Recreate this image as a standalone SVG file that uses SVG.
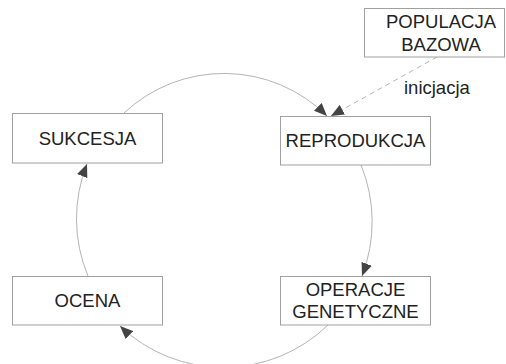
<svg xmlns="http://www.w3.org/2000/svg" width="506" height="364" viewBox="0 0 506 364">
<style>
.box{fill:#fff;stroke:#a0a0a0;stroke-width:1}
.t{font-family:"Liberation Sans",Arial,sans-serif;font-size:18.5px;fill:#222;text-anchor:middle}
.edge{fill:none;stroke:#b4b4b4;stroke-width:1}
.dash{fill:none;stroke:#b4b4b4;stroke-width:1;stroke-dasharray:5,4}
</style>
<defs>
<marker id="ah" viewBox="0 0 13 11" refX="13" refY="5.5" markerWidth="13" markerHeight="11" markerUnits="userSpaceOnUse" orient="auto">
<path d="M0,0 L13,5.5 L0,11 z" fill="#444"/>
</marker>
</defs>
<rect width="506" height="364" fill="#fff"/>
<g id="connectors">
<path class="edge" d="M124,113 A146,146 0 0 1 327,116" marker-end="url(#ah)"/>
<path class="dash" d="M437,57 L331,116" marker-end="url(#ah)"/>
<path class="edge" d="M361,165 A150,150 0 0 1 362,276" marker-end="url(#ah)"/>
<path class="edge" d="M328,325 A150,150 0 0 1 120,326" marker-end="url(#ah)"/>
<path class="edge" d="M88,276 A148,148 0 0 1 87,164" marker-end="url(#ah)"/>
<text class="t" x="404" y="94" style="text-anchor:start">inicjacja</text>
</g>
<g id="populacja">
<rect class="box" x="364.5" y="8.5" width="140" height="48.5"/>
<text class="t" x="441" y="28">POPULACJA</text>
<text class="t" x="441" y="51">BAZOWA</text>
</g>
<g id="reprodukcja">
<rect class="box" x="280.5" y="116.5" width="150" height="48.5"/>
<text class="t" x="355.5" y="147">REPRODUKCJA</text>
</g>
<g id="sukcesja">
<rect class="box" x="12.5" y="113.5" width="150" height="49.5"/>
<text class="t" x="87.5" y="145">SUKCESJA</text>
</g>
<g id="ocena">
<rect class="box" x="12.5" y="276.5" width="150" height="48.5"/>
<text class="t" x="87.5" y="307">OCENA</text>
</g>
<g id="operacje">
<rect class="box" x="280.5" y="276.5" width="150" height="48.5"/>
<text class="t" x="355.5" y="296">OPERACJE</text>
<text class="t" x="355.5" y="318">GENETYCZNE</text>
</g>
</svg>
